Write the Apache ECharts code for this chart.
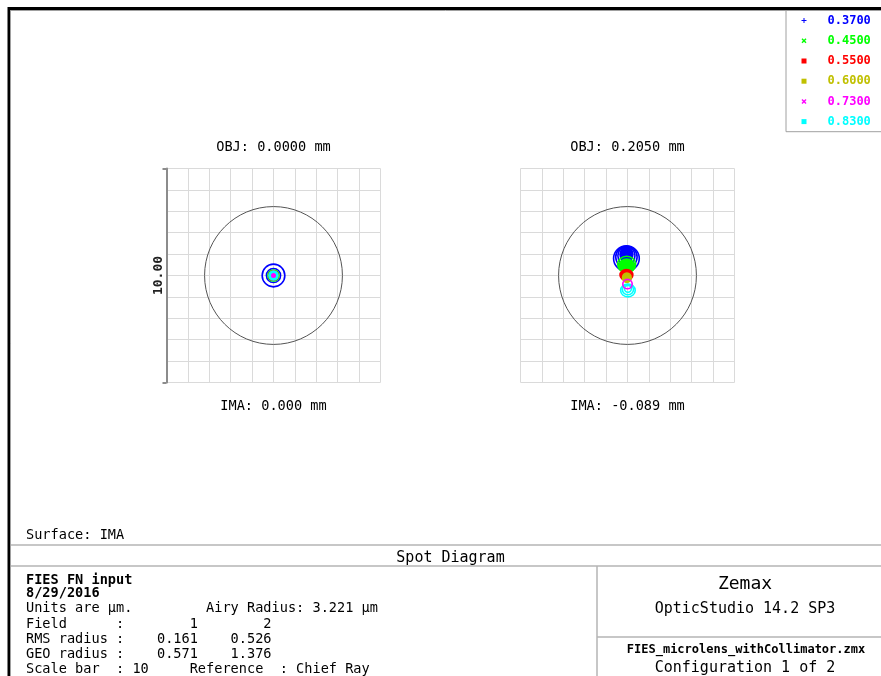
<!DOCTYPE html>
<html><head><meta charset="utf-8">
<script src="https://cdn.jsdelivr.net/npm/echarts@6/dist/echarts.min.js"></script>
<style>html,body{margin:0;padding:0;background:#fff}#c{width:881px;height:676px}</style>
</head><body><div id="c"></div>
<script>
// ---------- data ----------
const wavelengths = ['0.3700', '0.4500', '0.5500', '0.6000', '0.7300', '0.8300'];
const fieldTitles = ['OBJ: 0.0000 mm', 'OBJ: 0.2050 mm'];
const imaLabels = ['IMA: 0.000 mm', 'IMA: -0.089 mm'];
const airyRadius = 3.221;      // µm
const scaleBar = 10;           // µm
const rmsRadius = ['0.161', '0.526'];
const geoRadius = ['0.571', '1.376'];
// spot rings: [wavelength index, cx, cy, rx, ry, filled]  (µm)
const field1Rings = [
  [0, 0, 0, 0.53, 0.53, 0],
  [0, 0, 0, 0.33, 0.33, 0],
  [1, 0, 0, 0.26, 0.26, 0],
  [2, 0, 0, 0.22, 0.22, 0],
  [3, 0, 0, 0.20, 0.20, 0],
  [4, 0, 0, 0.08, 0.08, 1],
  [5, 0, 0, 0.21, 0.21, 1]
];
const field2Rings = [
  [0, -0.05, 0.80, 0.60, 0.59, 0],
  [0, -0.05, 0.86, 0.50, 0.51, 0],
  [0, -0.05, 0.92, 0.40, 0.43, 0],
  [0, -0.05, 0.98, 0.30, 0.34, 1],
  [1, -0.04, 0.52, 0.42, 0.38, 0],
  [1, -0.04, 0.45, 0.37, 0.32, 1],
  [2, -0.05, 0.02, 0.30, 0.26, 1],
  [3, -0.03, -0.10, 0.20, 0.22, 1],
  [4, 0.00, -0.40, 0.22, 0.22, 0],
  [5, 0.02, -0.70, 0.34, 0.30, 0],
  [5, 0.02, -0.66, 0.26, 0.24, 0],
  [5, 0.02, -0.62, 0.16, 0.16, 0]
];

// ---------- styles ----------
const wlColors = ['#0000ff', '#00ff00', '#ff0000', '#c0c000', '#ff00ff', '#00ffff'];
const seriesZ = [2, 2, 2, 2, 4, 3];
const legendIcons = [
  'path://M2,0h1v2h2v1h-2v2h-1v-2h-2v-1h2z',
  'path://M0,1l1,-1 1.5,1.5 1.5,-1.5 1,1 -1.5,1.5 1.5,1.5 -1,1 -1.5,-1.5 -1.5,1.5 -1,-1 1.5,-1.5z',
  'path://M0,0h1v1h-1z', 'path://M0,0h1v1h-1z',
  'path://M0,1l1,-1 1.5,1.5 1.5,-1.5 1,1 -1.5,1.5 1.5,1.5 -1,1 -1.5,-1.5 -1.5,1.5 -1,-1 1.5,-1.5z',
  'path://M0,0h1v1h-1z'
];
const MONO = '"DejaVu Sans Mono", "Liberation Mono", monospace';

function ringRenderer(color, lw) {
  return function (params, api) {
    const c = api.coord([api.value(0), api.value(1)]);
    const s = api.size([api.value(2), api.value(3)]);
    const filled = api.value(4) === 1;
    return {
      type: 'ellipse',
      shape: { cx: c[0], cy: c[1], rx: s[0], ry: s[1] },
      style: { fill: filled ? color : 'none', stroke: color, lineWidth: lw }
    };
  };
}

const series = [];
[field1Rings, field2Rings].forEach(function (rings, f) {
  series.push({
    type: 'custom', name: 'airy' + f, xAxisIndex: f, yAxisIndex: f, silent: true, clip: false,
    renderItem: ringRenderer('#555555', 1),
    data: [[0, 0, airyRadius, airyRadius, 0]]
  });
  wavelengths.forEach(function (w, i) {
    series.push({
      type: 'custom', name: w, xAxisIndex: f, yAxisIndex: f, silent: true, clip: false,
      z: seriesZ[i],
      itemStyle: { color: wlColors[i] },
      renderItem: ringRenderer(wlColors[i], 1.6),
      data: rings.filter(r => r[0] === i).map(r => r.slice(1))
    });
  });
});

function plotAxis(g) {
  return {
    gridIndex: g, type: 'value', min: -scaleBar / 2, max: scaleBar / 2, interval: 1,
    axisLine: { show: false }, axisTick: { show: false }, axisLabel: { show: false },
    splitLine: { show: true, lineStyle: { color: '#dadada', width: 1 } }
  };
}

const gridLeft = [166.5, 520.5];
const gridTop = 168.5, gridSize = 214;
const centers = gridLeft.map(l => l + gridSize / 2);

function txt(x, y, text, size, opts) {
  opts = opts || {};
  return {
    type: 'text', x: x, y: y, silent: true,
    style: {
      text: text, fill: '#000',
      font: (opts.bold ? 'bold ' : '') + size + 'px ' + MONO,
      align: opts.align || 'left', verticalAlign: 'middle'
    }
  };
}
function ln(x1, y1, x2, y2, color, w) {
  return { type: 'line', silent: true, shape: { x1: x1, y1: y1, x2: x2, y2: y2 }, style: { stroke: color, lineWidth: w } };
}

const fieldLine = 'Field      :        1        2';
const rmsLine = 'RMS radius :    ' + rmsRadius[0] + '    ' + rmsRadius[1];
const geoLine = 'GEO radius :    ' + geoRadius[0] + '    ' + geoRadius[1];

const graphic = [
  ln(8, 8.5, 881, 8.5, '#000', 3),
  ln(9, 7, 9, 676, '#000', 3),
  ln(10.5, 10.5, 881, 10.5, '#a0a0a0', 1),
  ln(10.5, 10.5, 10.5, 676, '#a0a0a0', 1),
  ln(11, 545, 881, 545, '#b4b4b4', 1.5),
  ln(11, 566, 881, 566, '#b4b4b4', 1.5),
  ln(597, 566, 597, 676, '#b4b4b4', 1.5),
  ln(597, 637, 881, 637, '#b4b4b4', 1.5),
  txt(centers[0], 147, fieldTitles[0], 13.6, { align: 'center' }),
  txt(centers[1], 147, fieldTitles[1], 13.6, { align: 'center' }),
  txt(centers[0], 406, imaLabels[0], 13.6, { align: 'center' }),
  txt(centers[1], 406, imaLabels[1], 13.6, { align: 'center' }),
  txt(26, 535, 'Surface: IMA', 13.6),
  txt(450.5, 558.5, 'Spot Diagram', 15, { align: 'center' }),
  txt(26, 580, 'FIES FN input', 13.6, { bold: true }),
  txt(26, 593, '8/29/2016', 13.6, { bold: true }),
  txt(26, 608.5, 'Units are µm.         Airy Radius: ' + airyRadius + ' µm', 13.6),
  txt(26, 624, fieldLine, 13.6),
  txt(26, 639.5, rmsLine, 13.6),
  txt(26, 654.5, geoLine, 13.6),
  txt(26, 669.5, 'Scale bar  : ' + scaleBar + '     Reference  : Chief Ray', 13.6),
  txt(745, 584.5, 'Zemax', 18, { align: 'center' }),
  txt(745, 609.5, 'OpticStudio 14.2 SP3', 15, { align: 'center' }),
  txt(746, 649.5, 'FIES_microlens_withCollimator.zmx', 12, { align: 'center', bold: true }),
  txt(745, 668.5, 'Configuration 1 of 2', 15, { align: 'center' })
];

const chart = echarts.init(document.getElementById('c'), null, { renderer: 'canvas' });
chart.setOption({
  backgroundColor: '#ffffff',
  animation: false,
  grid: gridLeft.map(l => ({ left: l, top: gridTop, width: gridSize, height: gridSize })),
  xAxis: [plotAxis(0), plotAxis(1)],
  yAxis: [plotAxis(0), plotAxis(1), {
    gridIndex: 0, type: 'value', min: 0, max: scaleBar, interval: scaleBar, position: 'left',
    axisLine: { show: true, lineStyle: { color: '#8c8c8c', width: 2 } },
    axisTick: { show: true, length: 4, lineStyle: { color: '#8c8c8c', width: 2 } },
    axisLabel: { show: false }, splitLine: { show: false },
    name: scaleBar.toFixed(2), nameLocation: 'middle', nameRotate: 90, nameGap: 1,
    nameTextStyle: { fontFamily: MONO, fontWeight: 'bold', fontSize: 13, color: '#222' }
  }],
  legend: {
    left: 786, top: 10.5, orient: 'vertical', itemWidth: 37, itemHeight: 5, itemGap: 0,
    padding: [0, 18, 0, 15.5], borderColor: '#a0a0a0', borderWidth: 1, selectedMode: false,
    textStyle: { fontFamily: MONO, fontWeight: 'bold', fontSize: 12, lineHeight: 20.2 },
    data: wavelengths.map((w, i) => ({ name: w, icon: legendIcons[i], textStyle: { color: wlColors[i] } }))
  },
  graphic: graphic,
  series: series
});
</script></body></html>
